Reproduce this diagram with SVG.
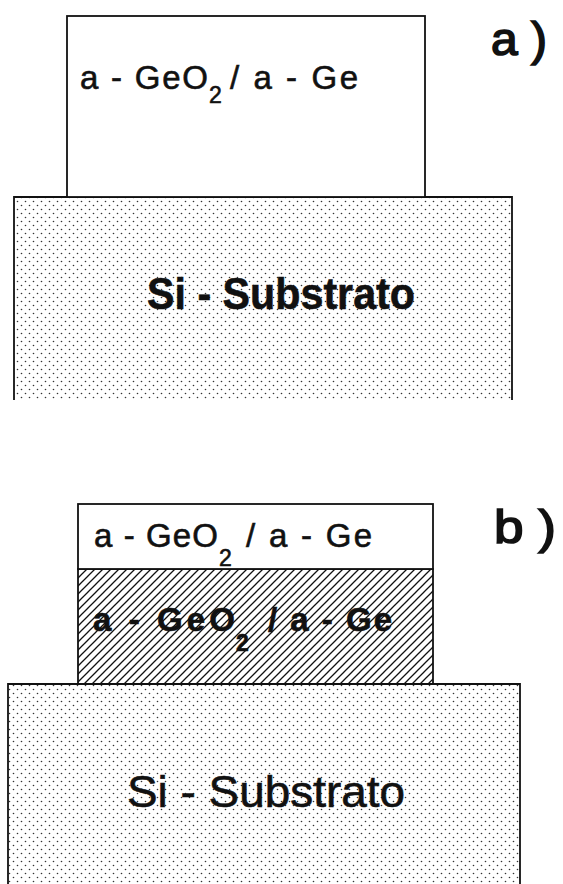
<svg xmlns="http://www.w3.org/2000/svg" width="563" height="884" viewBox="0 0 563 884">
<style>
.t{font-family:"Liberation Sans",Arial,sans-serif;fill:#111;stroke:#111;stroke-width:0.6;}
.lbl{font-size:33px;}
.sub{font-size:23px;}
.big{font-size:45px;}
.tag{font-size:46px;stroke-width:1.6;}
.edge{fill:none;stroke:#111;stroke-width:1.8;}
</style>
<defs>
<pattern id="dots" patternUnits="userSpaceOnUse" width="8" height="8">
<circle cx="1.5" cy="1.5" r="0.8" fill="#333"/>
<circle cx="5.5" cy="5.5" r="0.8" fill="#333"/>
</pattern>
<pattern id="hatch" patternUnits="userSpaceOnUse" width="8" height="8">
<path d="M0,8 L8,0 M-2,2 L2,-2 M6,10 L10,6" stroke="#111" stroke-width="1.3"/>
</pattern>
</defs>
<rect width="563" height="884" fill="#fff"/>

<!-- Part a -->
<g id="substrate-a">
<rect x="14" y="197" width="498" height="203" fill="url(#dots)"/>
<path class="edge" d="M14,400 V197 H512 V400"/>
<text class="t big" font-weight="bold" x="147" y="309" textLength="268" lengthAdjust="spacingAndGlyphs">Si - Substrato</text>
</g>
<g id="layer-a">
<rect x="67" y="16" width="358" height="181" fill="#fff" stroke="#111" stroke-width="1.8"/>
<text class="t lbl" x="80" y="89" textLength="128" lengthAdjust="spacing">a - GeO</text>
<text class="t sub" x="209" y="103">2</text>
<text class="t lbl" x="230" y="89" textLength="128" lengthAdjust="spacing">/ a - Ge</text>
</g>
<g id="label-a">
<text class="t tag" x="491" y="55" textLength="56" lengthAdjust="spacingAndGlyphs">a )</text>
</g>

<!-- Part b -->
<g id="substrate-b">
<rect x="8" y="684" width="512" height="200" fill="url(#dots)"/>
<path class="edge" d="M8,884 V684 H520 V884"/>
<text class="t big" x="127" y="807" textLength="278" lengthAdjust="spacingAndGlyphs">Si - Substrato</text>
</g>
<g id="layer-b-hatched">
<rect x="78" y="569" width="355" height="115" fill="url(#hatch)" stroke="#111" stroke-width="1.8"/>
<text class="t lbl" font-weight="bold" x="93" y="631" textLength="142" lengthAdjust="spacing">a - GeO</text>
<text class="t sub" font-weight="bold" x="236" y="651">2</text>
<text class="t lbl" font-weight="bold" x="268" y="631" textLength="124" lengthAdjust="spacing">/ a - Ge</text>
</g>
<g id="layer-b-top">
<rect x="78" y="504" width="355" height="65" fill="#fff" stroke="#111" stroke-width="1.8"/>
<text class="t lbl" x="94" y="547" textLength="124" lengthAdjust="spacing">a - GeO</text>
<text class="t sub" x="219" y="566">2</text>
<text class="t lbl" x="246" y="547" textLength="126" lengthAdjust="spacing">/ a - Ge</text>
</g>
<g id="label-b">
<text class="t tag" x="494" y="543" textLength="62" lengthAdjust="spacingAndGlyphs">b )</text>
</g>
</svg>
